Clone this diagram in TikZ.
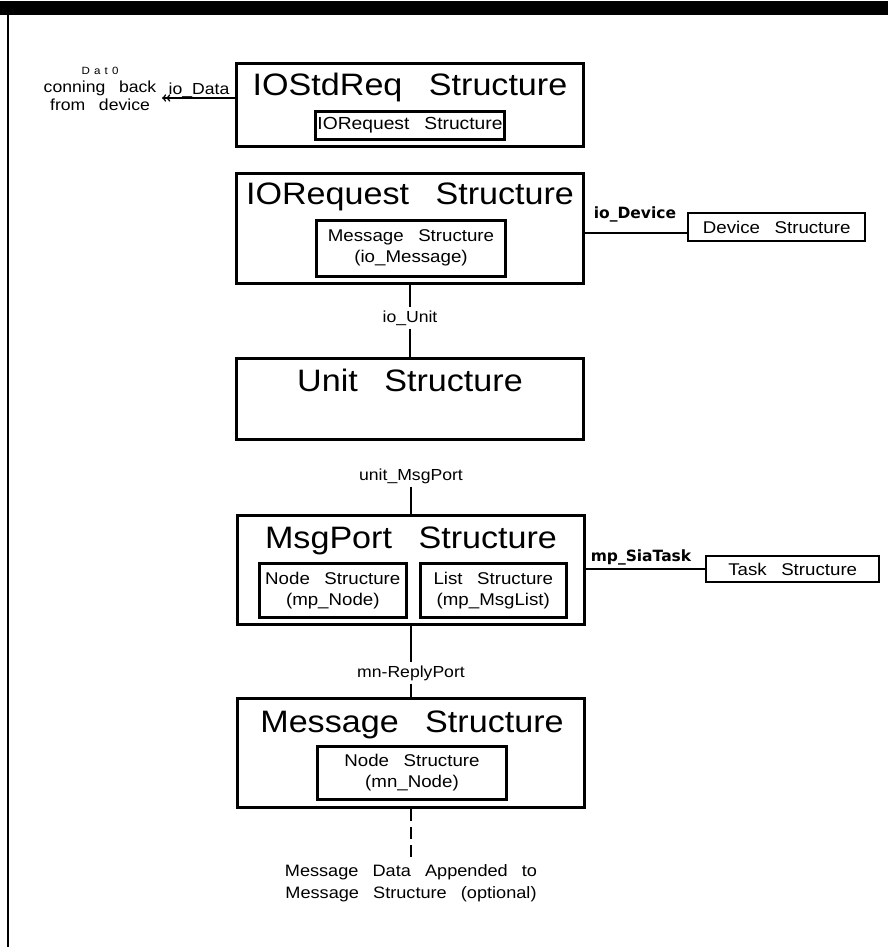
\documentclass[tikz,border=0pt]{standalone}
\usepackage{fontspec}
\setmainfont[FakeStretch=1.1,WordSpace=2.8]{Liberation Sans}
\newfontfamily\tagfont{DejaVu Sans}
\usetikzlibrary{positioning}

\tikzset{
  outerbox/.style={draw, line width=3pt, minimum width=347pt, inner sep=0pt, anchor=north},
  innerbox/.style={draw, line width=2.6pt, inner sep=0pt, align=center,
    font=\fontsize{17}{21}\selectfont},
  titletext/.style={font=\fontsize{31}{34}\selectfont, anchor=base, inner sep=0pt},
  labeltext/.style={font=\fontsize{16}{18}\selectfont, inner sep=3pt},
  tagtext/.style={font=\tagfont\bfseries\fontsize{15.5}{17}\selectfont, anchor=base, inner sep=0pt},
  link/.style={line width=1.6pt},
}

\begin{document}
\begin{tikzpicture}[x=1pt,y=-1pt]
  \useasboundingbox (0,0) rectangle (888,947);
  \fill (0,1) rectangle (888,15);
  \draw[line width=2.5pt] (8,15) -- (8,947);

  % IOStdReq
  \node[outerbox, minimum height=83pt] (iostd) at (410,62) {};
  \node[titletext] (iostdT) at (410,96) {IOStdReq Structure};
  \node[innerbox, minimum width=189pt, minimum height=28pt, anchor=north,
    font=\fontsize{17.5}{21}\selectfont] (iostdIn) at (410,110) {IORequest Structure};
  \node[labeltext, align=center] (devData) at (100,89)
    {{\fontsize{10.5}{12}\selectfont\addfontfeature{LetterSpace=40}Dat0}\\conning back\\from device};
  \node[labeltext, anchor=base, inner sep=0pt] (ioDataL) at (199,95) {io\_Data};
  \coordinate (dataTip) at (162,98);
  \draw[link,->>] (iostd.west |- dataTip) -- (dataTip);

  % IORequest
  \node[outerbox, minimum height=110pt] (iorq) at (410,172) {};
  \node[titletext] (iorqT) at (410,204) {IORequest Structure};
  \node[innerbox, minimum width=189pt, minimum height=56pt, anchor=north] (iorqIn)
    at (411,219) {Message Structure\\(io\_Message)};
  \node[draw, line width=2.4pt, minimum width=177pt, minimum height=28pt, inner sep=0pt,
    anchor=north west, font=\fontsize{17}{21}\selectfont] (dev) at (687,212) {Device Structure};
  \node[tagtext] (ioDevL) at (635,218) {io\_Device};
  \draw[link] ([yshift=-6pt]dev.west) -- ([yshift=-6pt]dev.west -| iorq.east);

  % Unit
  \node[labeltext] (ioUnitL) at (410,318) {io\_Unit};
  \node[outerbox, minimum height=81pt] (unit) at (410,357) {};
  \node[titletext] (unitT) at (410,391) {Unit Structure};
  \draw[link] (iorq.south) -- (ioUnitL) -- (unit.north);

  % MsgPort
  \node[labeltext] (msgPortL) at (411,476) {unit\_MsgPort};
  \node[outerbox, minimum height=109pt] (msgport) at (411,514) {};
  \node[titletext] (msgportT) at (411,548) {MsgPort Structure};
  \node[innerbox, minimum width=147pt, minimum height=54pt, anchor=north west] (mpNode)
    at (258,562) {Node Structure\\(mp\_Node)};
  \node[innerbox, minimum width=146pt, minimum height=54pt, anchor=north west] (mpList)
    at (419,562) {List Structure\\(mp\_MsgList)};
  \draw[link] (msgPortL) -- (msgport.north);
  \node[draw, line width=2.4pt, minimum width=173pt, minimum height=26pt, inner sep=0pt,
    anchor=north west, font=\fontsize{17}{21}\selectfont] (task) at (705,555) {Task Structure};
  \node[tagtext] (sigTaskL) at (641,561) {mp\_SiaTask};
  \draw[link] (task.west) -- (task.west -| msgport.east);

  % Message
  \node[labeltext] (replyL) at (411,673) {mn-ReplyPort};
  \node[outerbox, minimum height=109pt] (message) at (411,697) {};
  \node[titletext] (messageT) at (412,732) {Message Structure};
  \node[innerbox, minimum width=189pt, minimum height=53pt, anchor=north] (mnNode)
    at (412,745) {Node Structure\\(mn\_Node)};
  \draw[line width=2.6pt] (msgport.south) -- (replyL);
  \draw[link] (replyL) -- (message.north);
  \node[labeltext, align=center, inner sep=5pt, font=\fontsize{16.5}{22}\selectfont] (appendL)
    at (411,883) {Message Data Appended to\\Message Structure (optional)};
  \draw[link, dash pattern=on 12pt off 6pt] (message.south) -- (appendL.north);
\end{tikzpicture}
\end{document}
